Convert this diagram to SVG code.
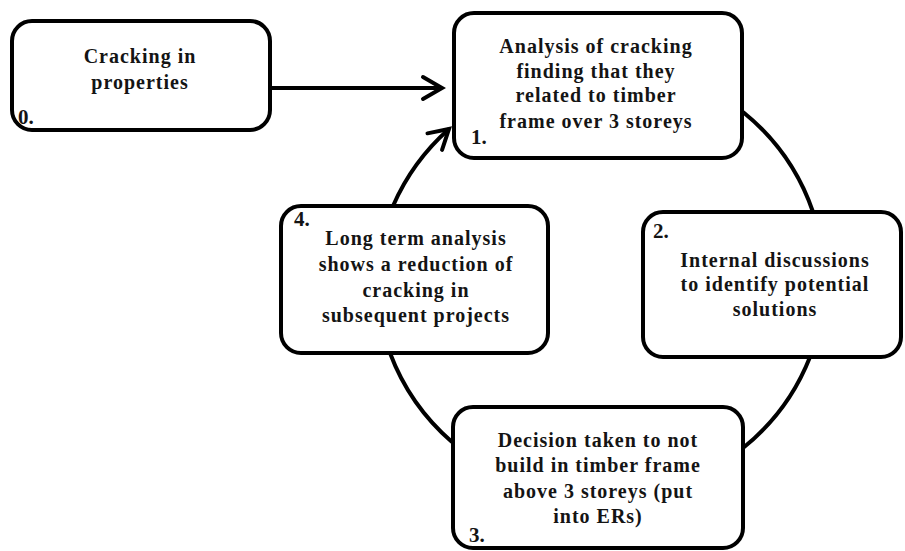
<svg xmlns="http://www.w3.org/2000/svg" width="905" height="551" viewBox="0 0 905 551">
  <style>
    .box { fill: #ffffff; stroke: #000000; stroke-width: 4; }
    .label { font-family: "Liberation Serif", "Times New Roman", serif; font-weight: bold; font-size: 20px; letter-spacing: 1px; fill: #141414; text-anchor: middle; }
    .num { font-family: "Liberation Serif", "Times New Roman", serif; font-weight: bold; font-size: 21px; fill: #141414; }
    .link { fill: none; stroke: #000000; stroke-width: 4; }
  </style>
  <defs>
    <marker id="chevron" viewBox="-24 -16 28 32" refX="0" refY="0" markerWidth="28" markerHeight="32" markerUnits="userSpaceOnUse" orient="auto">
      <path d="M-19,-11 L0,0 L-19,11" fill="none" stroke="#000000" stroke-width="4" stroke-linecap="round" stroke-linejoin="miter"/>
    </marker>
  </defs>

  <rect width="905" height="551" fill="#ffffff"/>

  <!-- connectors: entry arrow plus the cycle drawn as arcs of one circle -->
  <g id="connectors">
    <path class="link" d="M270,88 L442,88" marker-end="url(#chevron)"/>
    <path class="link" d="M743,112 A221 220 0 0 1 813,212"/>
    <path class="link" d="M810,357 A221 220 0 0 1 743,448"/>
    <path class="link" d="M452,442 A221 220 0 0 1 390,353"/>
    <path class="link" d="M393,206 A221 220 0 0 1 449,129" marker-end="url(#chevron)"/>
  </g>

  <g id="node0">
    <rect class="box" x="12" y="21" width="258" height="109" rx="20" ry="20"/>
    <text class="label" x="140" y="63">Cracking in</text>
    <text class="label" x="140" y="89">properties</text>
    <text class="num" x="18" y="124">0.</text>
  </g>

  <g id="node1">
    <rect class="box" x="454" y="13" width="288" height="145" rx="20" ry="20"/>
    <text class="label" x="596" y="53">Analysis of cracking</text>
    <text class="label" x="596" y="78">finding that they</text>
    <text class="label" x="596" y="102">related to timber</text>
    <text class="label" x="596" y="128">frame over 3 storeys</text>
    <text class="num" x="471" y="144">1.</text>
  </g>

  <g id="node2">
    <rect class="box" x="643" y="212" width="258" height="145" rx="20" ry="20"/>
    <text class="label" x="775" y="267">Internal discussions</text>
    <text class="label" x="775" y="291">to identify potential</text>
    <text class="label" x="775" y="316">solutions</text>
    <text class="num" x="653" y="238">2.</text>
  </g>

  <g id="node3">
    <rect class="box" x="453" y="407" width="290" height="141" rx="20" ry="20"/>
    <text class="label" x="598" y="447">Decision taken to not</text>
    <text class="label" x="598" y="472">build in timber frame</text>
    <text class="label" x="598" y="498">above 3 storeys (put</text>
    <text class="label" x="598" y="523">into ERs)</text>
    <text class="num" x="469" y="542">3.</text>
  </g>

  <g id="node4">
    <rect class="box" x="281" y="206" width="267" height="147" rx="20" ry="20"/>
    <text class="label" x="416" y="245">Long term analysis</text>
    <text class="label" x="416" y="271">shows a reduction of</text>
    <text class="label" x="416" y="297">cracking in</text>
    <text class="label" x="416" y="322">subsequent projects</text>
    <text class="num" x="294" y="226">4.</text>
  </g>
</svg>
